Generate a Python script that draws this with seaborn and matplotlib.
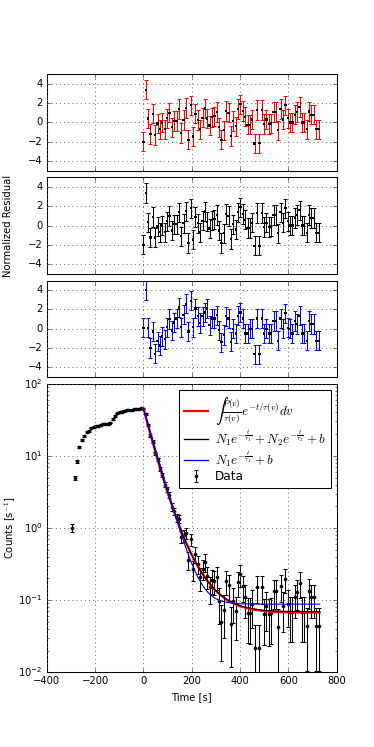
import numpy as np
import pandas as pd
import matplotlib
matplotlib.use("Agg")
import matplotlib.pyplot as plt
import seaborn as sns

# ---------------- data ----------------
time_pre = [-294.0, -284.2, -274.4, -264.6, -254.8, -245.0, -235.2, -225.4, -215.6, -205.8,
            -196.0, -186.2, -176.4, -166.6, -156.8, -147.0, -137.2, -127.4, -117.6, -107.8,
            -98.0, -88.2, -78.4, -68.6, -58.8, -49.0, -39.2, -29.4, -19.6, -9.8]
time_post = [0.0, 9.8, 19.6, 29.4, 39.2, 49.0, 58.8, 68.6, 78.4, 88.2, 98.0, 107.8, 117.6,
             127.4, 137.2, 147.0, 156.8, 166.6, 176.4, 186.2, 196.0, 205.8, 215.6, 225.4,
             235.2, 245.0, 254.8, 264.6, 274.4, 284.2, 294.0, 303.8, 313.6, 323.4, 333.2,
             343.0, 352.8, 362.6, 372.4, 382.2, 392.0, 401.8, 411.6, 421.4, 431.2, 441.0,
             450.8, 460.6, 470.4, 480.2, 490.0, 499.8, 509.6, 519.4, 529.2, 539.0, 548.8,
             558.6, 568.4, 578.2, 588.0, 597.8, 607.6, 617.4, 627.2, 637.0, 646.8, 656.6,
             666.4, 676.2, 686.0, 695.8, 705.6, 715.4, 725.2]

rate_pre = [1.0, 4.94, 8.4, 13.3, 16.5, 19.0, 21.5, 22.2, 24.7, 25.2, 25.8, 26.0, 27.2, 27.8,
            28.0, 27.8, 29.0, 32.7, 35.9, 38.7, 40.4, 41.2, 42.0, 43.6, 43.6, 43.3, 44.3,
            44.6, 44.6, 45.8]
err_pre = [0.12, 0.30, 0.40, 0.50, 0.56, 0.60, 0.64, 0.65, 0.69, 0.70, 0.71, 0.71, 0.72,
           0.73, 0.74, 0.73, 0.75, 0.80, 0.83, 0.86, 0.88, 0.89, 0.90, 0.92, 0.92, 0.91,
           0.93, 0.93, 0.93, 0.94]

rate_post = [45.0, 37.8, 26.56, 19.09, 15.78, 10.95, 8.92, 6.64, 5.39, 3.98, 3.44, 2.88, 1.97,
             1.71, 1.39, 1.35, 0.759, 0.792, 0.856, 0.362, 0.695, 0.270, 0.434, 0.319, 0.209,
             0.273, 0.342, 0.216, 0.150, 0.193, 0.187, 0.212, 0.097, 0.050, 0.073, 0.185,
             0.162, 0.046, 0.098, 0.070, 0.179, 0.227, 0.156, 0.110, 0.0665, 0.0655, 0.0887,
             0.0216, 0.154, 0.0214, 0.152, 0.0646, 0.0841, 0.0638, 0.0654, 0.1335, 0.1332,
             0.0424, 0.1575, 0.0822, 0.196, 0.0898, 0.0681, 0.068, 0.1105, 0.1317, 0.175,
             0.0677, 0.0676, 0.0441, 0.135, 0.110, 0.110, 0.0439, 0.0439]
err_post = [1.067, 0.984, 0.825, 0.699, 0.636, 0.529, 0.478, 0.412, 0.371, 0.319, 0.297, 0.272,
            0.225, 0.209, 0.189, 0.186, 0.139, 0.142, 0.148, 0.0963, 0.133, 0.0831, 0.105,
            0.0904, 0.0731, 0.0836, 0.0936, 0.0744, 0.062, 0.0703, 0.0692, 0.0737, 0.0498,
            0.0358, 0.0432, 0.0688, 0.0644, 0.0343, 0.0501, 0.0423, 0.0677, 0.0762, 0.0632,
            0.0531, 0.0413, 0.041, 0.0477, 0.0235, 0.0628, 0.0234, 0.0624, 0.0407, 0.0464,
            0.0404, 0.0409, 0.0585, 0.0584, 0.0329, 0.0635, 0.0459, 0.0708, 0.0479, 0.0418,
            0.0417, 0.0532, 0.0581, 0.0669, 0.0416, 0.0416, 0.0336, 0.0588, 0.0531, 0.0531,
            0.0335, 0.0335]

resid_red = [-2.0, 3.4, 0.4, -1.2, 0.9, -1.3, -0.1, -0.7, 0.0, -0.7, 0.45, 1.0, -0.5, 0.15,
             0.15, 1.4, -1.1, 0.25, 1.5, -1.8, 1.8, -1.45, 0.9, 0.25, -0.7, 0.5, 1.45, 0.4,
             -0.3, 0.55, 0.65, 1.1, -0.5, -1.8, -0.8, 1.2, 1.0, -1.4, 0.15, -0.4, 1.4, 1.9,
             1.2, 0.6, -0.25, -0.25, 0.3, -2.2, 1.3, -2.15, 1.3, -0.15, 0.3, -0.15, -0.1, 1.1,
             1.1, -0.8, 1.4, 0.3, 1.8, 0.45, 0.0, 0.0, 0.8, 1.1, 1.6, 0.0, 0.0, -0.7, 1.15,
             0.8, 0.8, -0.7, -0.7]
resid_black = [-2.0, 3.4, 0.35, -1.25, 0.9, -1.25, -0.1, -0.7, 0.0, -0.7, 0.45, 1.0, -0.5, 0.15,
               0.15, 1.4, -1.1, 0.25, 1.5, -1.8, 1.8, -1.45, 0.9, 0.25, -0.7, 0.5, 1.45, 0.4,
               -0.3, 0.55, 0.65, 1.1, -0.5, -1.8, -0.8, 1.2, 1.0, -1.4, 0.15, -0.4, 1.4, 1.9,
               1.2, 0.6, -0.25, -0.25, 0.3, -2.1, 1.3, -2.1, 1.3, -0.15, 0.3, -0.15, -0.1, 1.1,
               1.1, -0.8, 1.4, 0.3, 1.8, 0.45, 0.0, 0.0, 0.8, 1.1, 1.6, 0.0, 0.0, -0.75, 1.1,
               0.8, 0.8, -0.75, -0.75]
resid_blue = [0.1, 4.0, 0.1, -2.0, -0.3, -2.6, -1.3, -1.75, -0.8, -1.1, 0.15, 1.0, -0.2, 0.65,
              1.05, 2.2, 0.15, 1.45, 2.6, -0.3, 2.9, 0.15, 2.1, 1.3, 0.6, 1.3, 1.7, 2.1, 0.35,
              1.05, 1.05, 1.4, -0.15, -1.4, -0.65, 1.3, 1.05, -1.35, 0.0, -0.5, 1.35, 1.7, 1.05,
              -0.5, -0.5, 0.0, 0.0, -2.65, 1.05, -2.65, 1.05, -0.5, 0.0, -0.5, -0.5, 0.8, 0.8,
              -1.25, 1.05, 0.0, 1.6, 0.1, 0.0, -0.5, 0.8, 0.5, 1.35, -0.5, -0.5, -1.25, 0.8,
              0.5, 0.5, -1.25, -1.25]

time_model = [0, 10, 20, 30, 40, 50, 60, 70, 80, 90, 100, 110, 120, 130, 140, 150, 160, 170,
              180, 190, 200, 210, 220, 230, 240, 250, 260, 270, 280, 290, 300, 325, 350, 375,
              400, 450, 500, 550, 600, 650, 730]
model_integral = [45.77, 34.41, 25.95, 19.62, 14.90, 11.35, 8.69, 6.69, 5.17, 4.03, 3.16, 2.49,
                  1.98, 1.585, 1.281, 1.044, 0.858, 0.711, 0.595, 0.502, 0.427, 0.367, 0.318,
                  0.278, 0.245, 0.218, 0.195, 0.176, 0.160, 0.147, 0.135, 0.1136, 0.0991,
                  0.0892, 0.0824, 0.0745, 0.0706, 0.0688, 0.0679, 0.0674, 0.0672]
model_double = [45.77, 34.41, 25.95, 19.62, 14.90, 11.35, 8.69, 6.69, 5.17, 4.03, 3.16, 2.49,
                1.98, 1.585, 1.281, 1.044, 0.858, 0.711, 0.595, 0.502, 0.427, 0.367, 0.318,
                0.278, 0.245, 0.218, 0.195, 0.176, 0.160, 0.147, 0.135, 0.1145, 0.1002,
                0.0905, 0.0838, 0.0762, 0.0724, 0.0707, 0.0699, 0.0695, 0.0692]
model_single = [45.79, 35.21, 27.08, 20.84, 16.04, 12.35, 9.51, 7.33, 5.655, 4.367, 3.377, 2.616,
                2.031, 1.581, 1.236, 0.970, 0.766, 0.609, 0.489, 0.396, 0.325, 0.270, 0.228,
                0.1955, 0.1706, 0.1515, 0.1368, 0.1255, 0.1168, 0.1102, 0.105, 0.0968, 0.0926,
                0.0904, 0.0892, 0.0883, 0.088, 0.088, 0.088, 0.088, 0.088]

label_integral = r"$\int\frac{P(v)}{\tau(v)}e^{-t/\tau(v)}dv$"
label_double = r"$N_1e^{-\frac{t}{\tau_1}}+N_2e^{-\frac{t}{\tau_2}}+b$"
label_single = r"$N_1e^{-\frac{t}{\tau_1}}+b$"

# ---------------- style ----------------
plt.style.use("classic")
plt.rcParams.update({
    "font.family": ["DejaVu Sans"],
    "font.size": 9.6,
    "mathtext.fontset": "cm",
    "legend.numpoints": 1,
    "legend.fontsize": 11.5,
    "figure.facecolor": "white",
    "savefig.facecolor": "white",
    "axes.linewidth": 1.0,
})

fig, axes = plt.subplots(4, 1, figsize=(5, 9.987), dpi=74.8, sharex=True,
                         gridspec_kw=dict(height_ratios=[1, 1, 1, 3], hspace=0.048))
fig.subplots_adjust(left=0.125, right=0.9, top=0.9004, bottom=0.1)

resid_sets = [(resid_red, "#ff0000"), (resid_black, "k"), (resid_blue, "#0000ff")]
for ax, (res, col) in zip(axes[:3], resid_sets):
    ax.errorbar(time_post, res, yerr=1.0, fmt="none", ecolor=col, elinewidth=1.0,
                capsize=2.3, capthick=1.0, zorder=2)
    sns.scatterplot(x=time_post, y=res, ax=ax, color="k", marker="s", s=5,
                    edgecolor="none", zorder=3)
    ax.set_ylim(-5, 5)
    ax.set_yticks([-4, -2, 0, 2, 4])
    ax.grid(True, linestyle=":", color="0.35", linewidth=0.8)
    ax.tick_params(labelbottom=False)

axes[1].set_ylabel("Normalized Residual")
axes[1].yaxis.set_label_coords(-0.118, 0.5)

ax = axes[3]
time_all = time_pre + time_post
rate_all = rate_pre + rate_post
err_all = err_pre + err_post
data_h = ax.errorbar(time_all, rate_all, yerr=err_all, fmt="k.", ms=6, ecolor="k",
                     elinewidth=1.0, capsize=2.3, capthick=1.0, zorder=2, label="Data")

df = pd.DataFrame({"t": time_model, "integral": model_integral,
                   "double": model_double, "single": model_single})
curve_specs = [("integral", "#ff0000", 2.2, 3), ("double", "#000000", 1.0, 4),
               ("single", "#0000ff", 1.1, 4)]
curve_lines = []
for col, colr, lw, zo in curve_specs:
    n0 = len(ax.lines)
    sns.lineplot(data=df, x="t", y=col, ax=ax, color=colr, lw=lw,
                 estimator=None, sort=False, zorder=zo, legend=False)
    curve_lines.append(ax.lines[n0])

ax.set_yscale("log")
ax.set_ylim(1e-2, 1e2)
ax.set_xlim(-400, 800)
ax.set_xticks([-400, -200, 0, 200, 400, 600, 800])
ax.grid(True, which="major", linestyle=":", color="0.35", linewidth=0.8)
ax.set_xlabel("Time [s]")
ax.set_ylabel(r"Counts [s$^{-1}$]")
ax.yaxis.set_label_coords(-0.10, 0.5)

handles = curve_lines + [data_h]
labels = [label_integral, label_double, label_single, "Data"]
leg = ax.legend(handles, labels, loc="upper right", fancybox=False, frameon=True,
                borderaxespad=0.5, labelspacing=0.12, handletextpad=0.6)
leg.get_frame().set_edgecolor("k")
leg.get_frame().set_linewidth(1.0)
for txt in leg.get_texts()[:3]:
    txt.set_fontsize(12.5)
leg_lines = leg.get_lines()
for hl, (col, colr, lw, zo) in zip(leg_lines, curve_specs):
    hl.set_color(colr)
    hl.set_linewidth(max(lw, 1.3))

fig.savefig("out.png", dpi=74.8)
